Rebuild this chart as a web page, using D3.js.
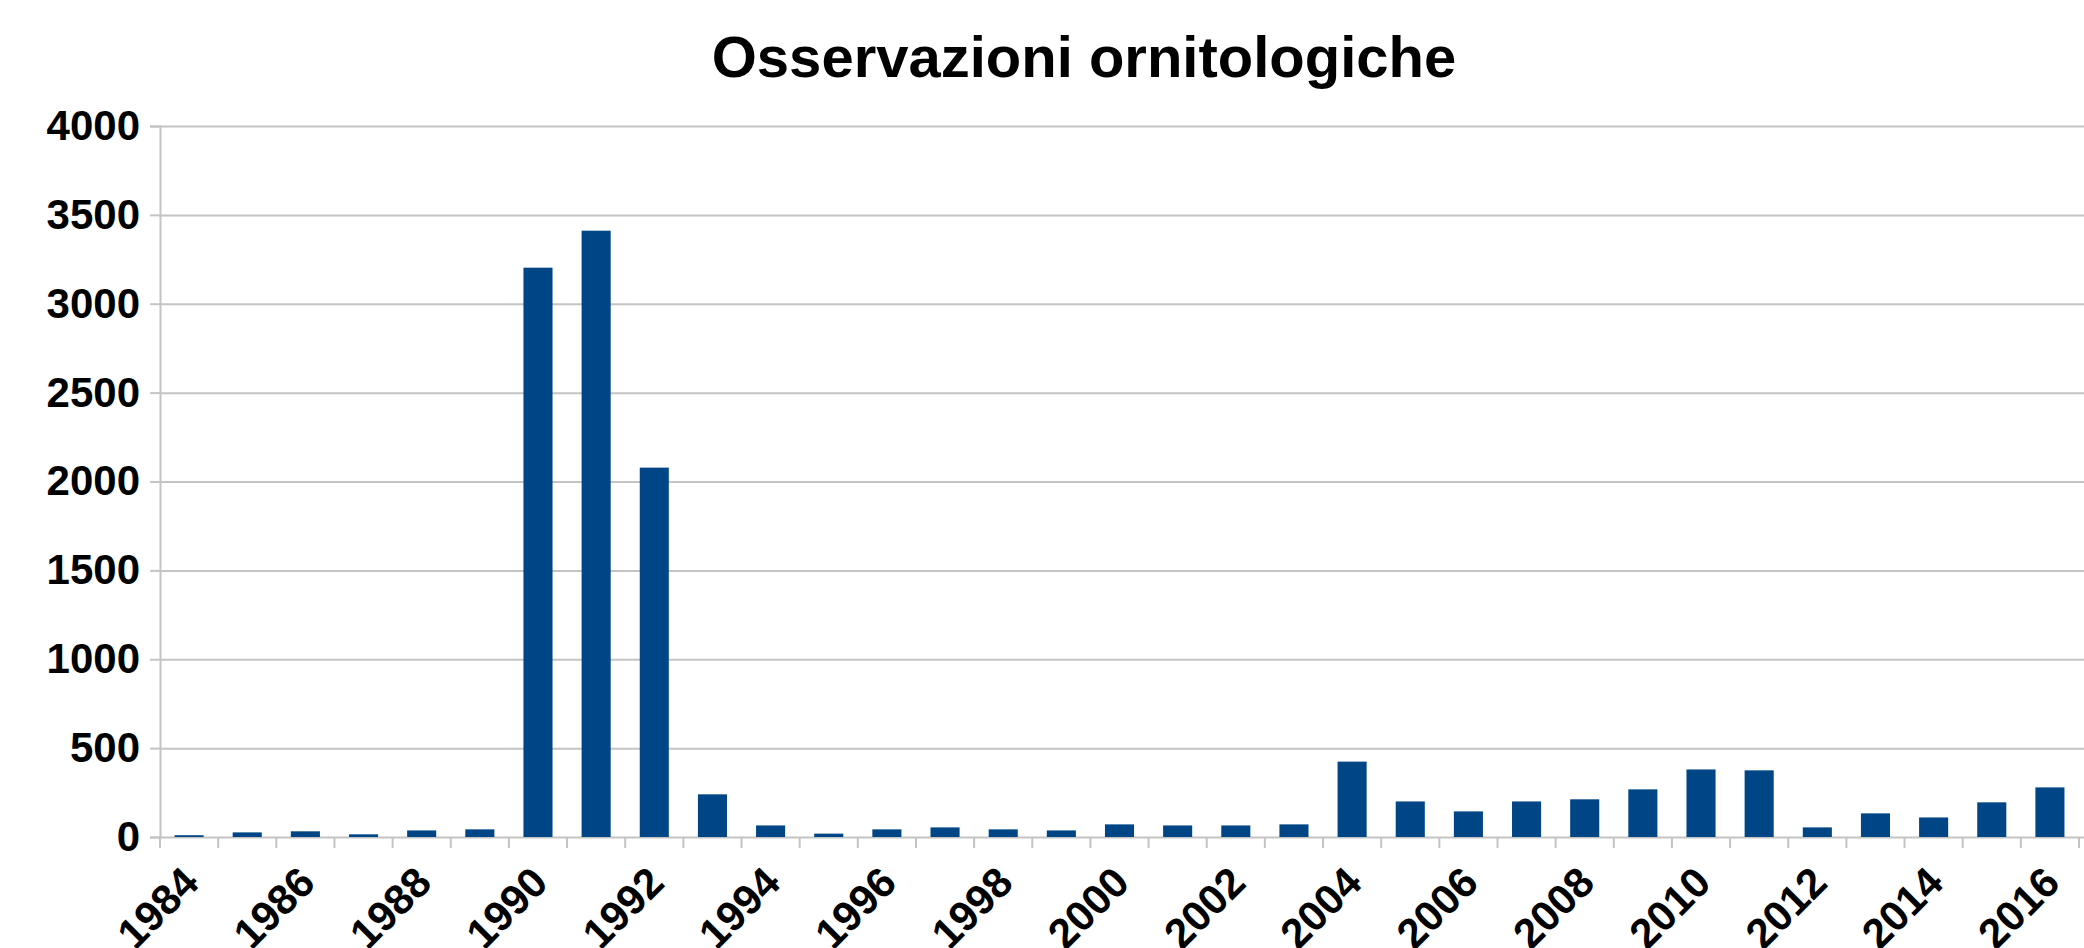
<!DOCTYPE html>
<html>
<head>
<meta charset="utf-8">
<script src="https://cdn.jsdelivr.net/npm/d3@7"></script>
<style>
  body { margin: 0; background: #fff; }
  svg { display: block; font-family: "Liberation Sans", Arial, sans-serif; }
</style>
</head>
<body>
<div id="chart"></div>
<script>
var width = 2084;
var height = 948;

var years = [1984, 1985, 1986, 1987, 1988, 1989, 1990, 1991, 1992, 1993, 1994,
             1995, 1996, 1997, 1998, 1999, 2000, 2001, 2002, 2003, 2004, 2005,
             2006, 2007, 2008, 2009, 2010, 2011, 2012, 2013, 2014, 2015, 2016];
var counts = [10, 26, 32, 15, 37, 43, 3203, 3411, 2078, 240, 65,
              19, 43, 54, 43, 37, 71, 65, 65, 71, 424, 200,
              144, 200, 212, 268, 380, 375, 54, 133, 110, 195, 279];
var yTicks = [0, 500, 1000, 1500, 2000, 2500, 3000, 3500, 4000];
var chartTitle = "Osservazioni ornitologiche";

var margin = { left: 160, right: 2079, top: 126, bottom: 837 };
var gridColor = "#c4c4c4";
var barColor = "#004586";

function createSVG(width, height) {
  return d3.select("#chart")
    .append("svg")
    .attr("width", width)
    .attr("height", height);
}

function main() {
  var svg = createSVG(width, height);

  var x = d3.scaleBand()
    .domain(years)
    .range([margin.left, margin.right])
    .padding(0);

  var y = d3.scaleLinear()
    .domain([0, 4000])
    .range([margin.bottom, margin.top]);

  // gridlines
  svg.append("g")
    .selectAll("line")
    .data(yTicks)
    .enter()
    .append("line")
    .attr("x1", margin.left)
    .attr("x2", width)
    .attr("y1", function(d) { return y(d) + 0.5; })
    .attr("y2", function(d) { return y(d) + 0.5; })
    .style("stroke", gridColor)
    .style("stroke-width", 2);

  // y axis
  var yAxis = svg.append("g")
    .attr("transform", "translate(" + margin.left + ",0)")
    .call(d3.axisLeft(y).tickValues(yTicks).tickFormat(d3.format("d"))
      .tickSize(10).tickPadding(10));
  yAxis.select(".domain").style("stroke", gridColor).style("stroke-width", 2);
  yAxis.selectAll(".tick line").style("stroke", gridColor).style("stroke-width", 2);
  yAxis.selectAll("text")
    .style("font-size", "42px")
    .style("font-weight", "bold")
    .style("fill", "#000");

  // x axis ticks at the category boundaries
  var bounds = years.map(function(d) { return x(d); }).concat([x.range()[1]]);
  svg.append("g")
    .selectAll("line")
    .data(bounds)
    .enter()
    .append("line")
    .attr("x1", function(d) { return d; })
    .attr("x2", function(d) { return d; })
    .attr("y1", margin.bottom)
    .attr("y2", margin.bottom + 11)
    .style("stroke", gridColor)
    .style("stroke-width", 2);

  // bars
  svg.append("g")
    .selectAll("rect")
    .data(years)
    .enter()
    .append("rect")
    .attr("x", function(d) { return x(d) + x.bandwidth() / 4; })
    .attr("width", x.bandwidth() / 2)
    .attr("y", function(d, i) { return y(counts[i]); })
    .attr("height", function(d, i) { return y(0) - y(counts[i]); })
    .style("fill", barColor);

  // x labels, every other year
  svg.append("g")
    .selectAll("text")
    .data(years.filter(function(d, i) { return i % 2 === 0; }))
    .enter()
    .append("text")
    .attr("transform", function(d) {
      var cx = x(d) + x.bandwidth() / 2 + 12;
      return "translate(" + cx + "," + (margin.bottom + 48) + ") rotate(-45)";
    })
    .attr("text-anchor", "end")
    .style("font-size", "42px")
    .style("font-weight", "bold")
    .text(function(d) { return d; });

  // title
  svg.append("text")
    .attr("x", 1084)
    .attr("y", 77)
    .attr("text-anchor", "middle")
    .style("font-size", "58px")
    .style("font-weight", "bold")
    .text(chartTitle);
}

window.onload = function() {
  main();
};
</script>
</body>
</html>
